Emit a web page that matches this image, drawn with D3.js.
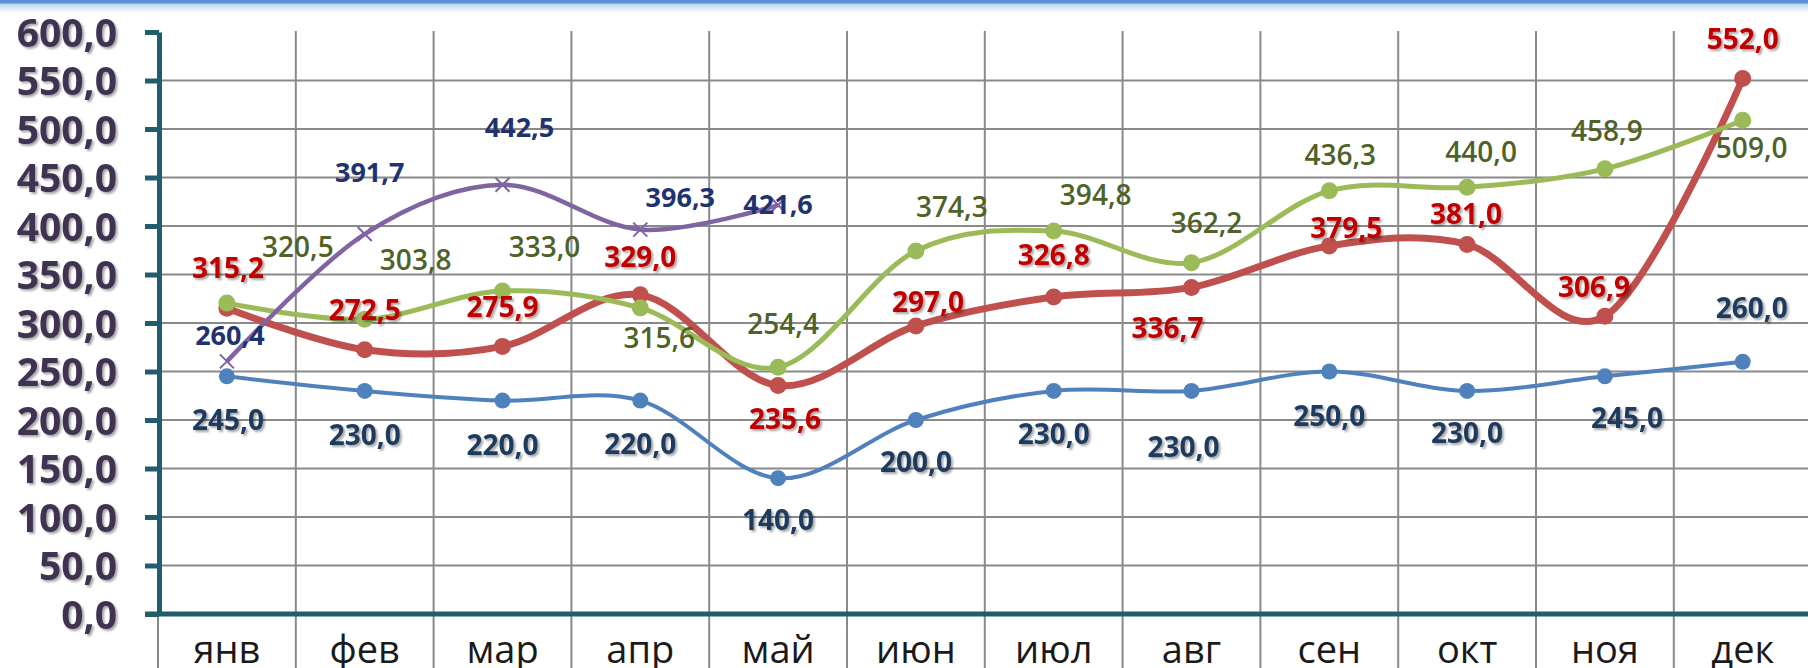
<!DOCTYPE html>
<html>
<head>
<meta charset="utf-8">
<script src="https://cdn.jsdelivr.net/npm/d3@7"></script>
<style>
    body { margin: 0; background: #fff; }
    svg { display: block; font-family: "Open Sans", "Noto Sans", sans-serif; }
</style>
</head>
<body>
<script>
"use strict";

const months = ["янв", "фев", "мар", "апр", "май", "июн", "июл", "авг", "сен", "окт", "ноя", "дек"];
const yTicks = [0, 50, 100, 150, 200, 250, 300, 350, 400, 450, 500, 550, 600];

const blueValues   = [245.0, 230.0, 220.0, 220.0, 140.0, 200.0, 230.0, 230.0, 250.0, 230.0, 245.0, 260.0];
const redValues    = [315.2, 272.5, 275.9, 329.0, 235.6, 297.0, 326.8, 336.7, 379.5, 381.0, 306.9, 552.0];
const greenValues  = [320.5, 303.8, 333.0, 315.6, 254.4, 374.3, 394.8, 362.2, 436.3, 440.0, 458.9, 509.0];
const purpleValues = [260.4, 391.7, 442.5, 396.3, 421.6];

// label nudges (dx, dy from the point), as placed by hand in the original
const blueLabelNudge   = [[1, 44], [0, 44], [0, 44], [0, 43], [0, 42], [0, 42], [0, 43], [-8, 56], [0, 44], [0, 42], [22, 42], [9, -54]];
const redLabelNudge    = [[1, -40], [0, -40], [0, -39], [0, -38], [7, 33], [12, -24], [0, -42], [-24, 41], [17, -18], [-1, -31], [-11, -29], [0, -40]];
const greenLabelNudge  = [[71, -56], [51, -59], [42, -44], [19, 30], [5, -43], [36, -44], [42, -36], [15, -40], [11, -36], [14, -35], [2, -38], [9, 28]];
const purpleLabelNudge = [[3, -26], [5, -62], [17, -57], [40, -32], [0, -1]];

const width = 1808, height = 668;
const axisX = 159, axisY = 614, topY = 32;
const teal = "#215d6b";
const fmt = v => d3.format(".1f")(v).replace(".", ",");

const svg = d3.select("body").append("svg")
              .attr("width", width)
              .attr("height", height);

const defs = svg.append("defs");
defs.append("filter")
    .attr("id", "shadow")
    .attr("x", "-20%").attr("y", "-30%")
    .attr("width", "140%").attr("height", "160%")
    .append("feDropShadow")
    .attr("dx", 2).attr("dy", 2)
    .attr("stdDeviation", 1.3)
    .attr("flood-color", "#000")
    .attr("flood-opacity", 0.35);
const grad = defs.append("linearGradient")
                 .attr("id", "topfade")
                 .attr("x1", 0).attr("y1", 0).attr("x2", 0).attr("y2", 1);
grad.append("stop").attr("offset", 0).attr("stop-color", "#b9cfee");
grad.append("stop").attr("offset", 1).attr("stop-color", "#ffffff");

// top frame strip
svg.append("rect").attr("x", 0).attr("y", 3).attr("width", width).attr("height", 10)
   .attr("fill", "url(#topfade)");
svg.append("rect").attr("x", 0).attr("y", 0).attr("width", width).attr("height", 3.5)
   .attr("fill", "#5d8fd6");

const x = d3.scaleBand()
            .domain(months)
            .range([158, 158 + 12 * 137.8])
            .padding(0);
const y = d3.scaleLinear()
            .domain([0, 600])
            .range([axisY, topY]);
const cx = i => x(months[i]) + x.bandwidth() / 2;

// grid
const grid = svg.append("g").attr("stroke", "#8a8a8a").attr("stroke-width", 2);
grid.selectAll("line.h")
    .data(yTicks.filter(t => t > 0 && t < 600))
    .join("line")
    .attr("class", "h")
    .attr("x1", axisX).attr("x2", width)
    .attr("y1", d => y(d)).attr("y2", d => y(d));
grid.selectAll("line.v")
    .data(months.slice(1))
    .join("line")
    .attr("class", "v")
    .attr("x1", d => x(d)).attr("x2", d => x(d))
    .attr("y1", topY - 1).attr("y2", height);
grid.append("line")
    .attr("x1", x(months[0])).attr("x2", x(months[0]))
    .attr("y1", axisY).attr("y2", height);

// y axis
const yAxis = svg.append("g")
                 .attr("transform", `translate(${axisX},0)`)
                 .call(d3.axisLeft(y)
                         .tickValues(yTicks)
                         .tickSize(14)
                         .tickSizeOuter(0)
                         .tickPadding(28)
                         .tickFormat(fmt));
yAxis.select(".domain").attr("stroke", teal).attr("stroke-width", 5);
yAxis.selectAll(".tick line").attr("stroke", teal).attr("stroke-width", 5);
yAxis.selectAll(".tick text")
     .attr("fill", "#3f3151")
     .attr("font-size", 39)
     .attr("font-weight", 700)
     .attr("font-family", "'Open Sans', sans-serif")
     .attr("filter", "url(#shadow)")
     .attr("dy", "0.36em");

// x axis
const xAxis = svg.append("g")
                 .attr("transform", `translate(0,${axisY})`)
                 .call(d3.axisBottom(x).tickSize(0).tickPadding(0));
xAxis.select(".domain").remove();
xAxis.append("line")
     .attr("x1", 145).attr("x2", width)
     .attr("stroke", teal).attr("stroke-width", 5);
xAxis.selectAll(".tick text")
     .attr("fill", "#1a1a1a")
     .attr("font-size", 38)
     .attr("font-family", "'Open Sans', sans-serif")
     .attr("dy", null)
     .attr("y", 49);

// series
const series = [
    { name: "blue",   values: blueValues,   nudge: blueLabelNudge,   line: "#4f81bd", width: 4,   marker: "circle", r: 8,   label: "#1f3a5f", weight: 700, size: 28, shadow: true },
    { name: "red",    values: redValues,    nudge: redLabelNudge,    line: "#c0504d", width: 7,   marker: "circle", r: 8.5, label: "#c00000", weight: 700, size: 28, shadow: true },
    { name: "green",  values: greenValues,  nudge: greenLabelNudge,  line: "#9bbb59", width: 5,   marker: "circle", r: 8.5, label: "#4f6228", weight: 600, size: 28, shadow: false },
    { name: "purple", values: purpleValues, nudge: purpleLabelNudge, line: "#8064a2", width: 4.5, marker: "x",      r: 7,   label: "#1f3370", weight: 700, size: 27, shadow: false }
];

const lineGen = d3.line()
                  .x((d, i) => cx(i))
                  .y(d => y(d))
                  .curve(d3.curveCardinal.tension(0));

const marks = svg.append("g");
series.forEach(s => {
    const g = marks.append("g").attr("class", s.name);
    g.append("path")
     .datum(s.values)
     .attr("fill", "none")
     .attr("stroke", s.line)
     .attr("stroke-width", s.width)
     .attr("stroke-linejoin", "round")
     .attr("d", lineGen);
    if (s.marker === "circle") {
        g.selectAll("circle")
         .data(s.values)
         .join("circle")
         .attr("cx", (d, i) => cx(i))
         .attr("cy", d => y(d))
         .attr("r", s.r)
         .attr("fill", s.line);
    } else {
        g.selectAll("path.x")
         .data(s.values)
         .join("path")
         .attr("class", "x")
         .attr("d", (d, i) => {
             const px = cx(i), py = y(d), r = s.r;
             return `M${px - r},${py - r}L${px + r},${py + r}M${px - r},${py + r}L${px + r},${py - r}`;
         })
         .attr("stroke", s.line)
         .attr("stroke-width", 2)
         .attr("fill", "none");
    }
});

const labels = svg.append("g");
series.forEach(s => {
    labels.append("g")
          .selectAll("text")
          .data(s.values)
          .join("text")
          .attr("x", (d, i) => cx(i) + s.nudge[i][0])
          .attr("y", (d, i) => y(d) + s.nudge[i][1])
          .attr("dy", "0.36em")
          .attr("text-anchor", "middle")
          .attr("fill", s.label)
          .attr("font-size", s.size)
          .attr("font-weight", s.weight)
          .attr("filter", s.shadow ? "url(#shadow)" : null)
          .text(fmt);
});
</script>
</body>
</html>
